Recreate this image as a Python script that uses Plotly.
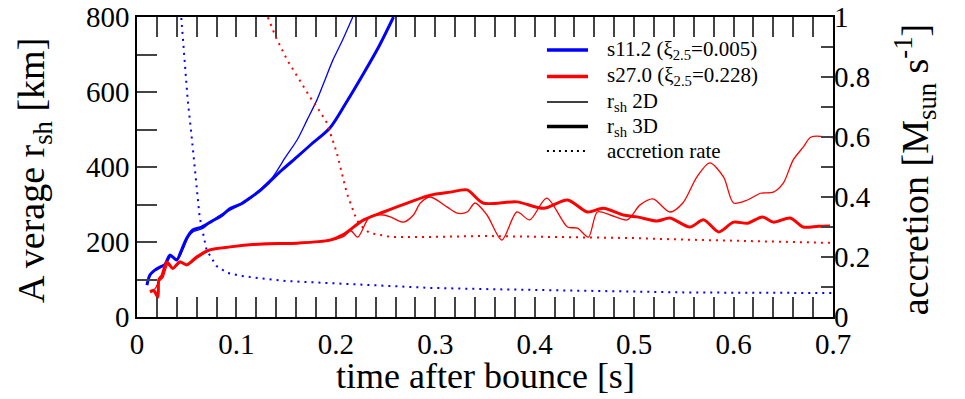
import plotly.graph_objects as go

# ---- data ----
# s11.2, shock radius 3D (thick)
t_b3 = [0.010,0.013,0.018,0.023,0.028,0.033,0.036,0.040,0.045,0.050,0.056,0.065,0.075,0.085,0.094,0.105,0.115,0.125,0.134,0.145,0.161,0.175,0.194,0.210,0.228,0.243,0.258]
r_b3 = [85,112,125,133,140,165,160,152,180,210,232,240,255,270,290,302,320,340,362,390,427,460,504,570,650,720,800]
# s11.2, shock radius 2D (thin)
t_b2 = [0.010,0.014,0.019,0.024,0.030,0.034,0.038,0.042,0.047,0.052,0.057,0.066,0.076,0.086,0.096,0.106,0.116,0.126,0.137,0.149,0.161,0.171,0.181,0.189,0.197,0.207,0.217]
r_b2 = [88,115,128,135,145,162,155,158,185,215,228,236,258,275,288,302,320,345,375,425,472,525,579,632,685,740,800]
# s27.0, shock radius 3D (thick)
t_r3 = [0.013,0.017,0.021,0.022,0.025,0.030,0.036,0.043,0.050,0.060,0.073,0.094,0.127,0.161,0.194,0.207,0.228,0.248,0.275,0.295,0.315,0.332,0.348,0.382,0.409,0.433,0.453,0.469,0.489,0.503,0.523,0.536,0.556,0.570,0.585,0.600,0.614,0.629,0.640,0.657,0.670,0.685,0.697]
r_r3 = [67,70,53,100,110,147,130,147,139,160,179,187,195,197,205,219,259,280,307,325,333,339,304,307,290,312,280,290,272,267,256,264,240,259,227,253,250,267,253,264,240,242,243]
# s27.0, shock radius 2D (thin)
t_r2 = [0.013,0.018,0.022,0.026,0.031,0.036,0.044,0.051,0.061,0.074,0.095,0.128,0.162,0.195,0.208,0.215,0.222,0.234,0.248,0.255,0.268,0.278,0.285,0.295,0.312,0.322,0.332,0.340,0.352,0.367,0.382,0.395,0.412,0.433,0.443,0.454,0.463,0.476,0.493,0.506,0.519,0.536,0.549,0.563,0.576,0.590,0.600,0.614,0.627,0.640,0.650,0.660,0.670,0.678,0.700]
r_r2 = [70,75,95,105,140,128,145,140,158,178,188,196,198,205,215,230,213,267,272,267,253,272,304,320,293,277,280,304,272,205,280,259,317,240,237,213,280,272,259,299,315,280,304,373,411,373,304,312,330,333,357,419,453,480,478]
# accretion rates [Msun/s]
t_ba = [0.044,0.047,0.051,0.055,0.058,0.063,0.070,0.080,0.091,0.105,0.121,0.150,0.194,0.250,0.295,0.350,0.400,0.450,0.500,0.550,0.600,0.650,0.700]
a_ba = [1.02,0.88,0.723,0.60,0.50,0.333,0.223,0.17,0.147,0.137,0.13,0.12,0.113,0.105,0.097,0.093,0.09,0.087,0.084,0.082,0.081,0.08,0.08]
t_ra = [0.129,0.140,0.151,0.163,0.174,0.183,0.191,0.201,0.211,0.221,0.228,0.234,0.245,0.255,0.275,0.295,0.35,0.40,0.45,0.5,0.55,0.6,0.65,0.7]
a_ra = [1.02,0.93,0.857,0.79,0.733,0.69,0.647,0.547,0.413,0.323,0.295,0.28,0.272,0.267,0.267,0.267,0.27,0.268,0.265,0.263,0.258,0.254,0.25,0.247]

legend_labels = ["s11.2 (ξ<sub>2.5</sub>=0.005)", "s27.0 (ξ<sub>2.5</sub>=0.228)",
                 "r<sub>sh</sub> 2D", "r<sub>sh</sub> 3D", "accretion rate"]

BLUE = "#0000ff"
RED = "#ff0000"
FONT = "Liberation Serif"

fig = go.Figure()
sp = dict(shape="spline", smoothing=0.8)
fig.add_trace(go.Scatter(x=t_ba, y=a_ba, yaxis="y2", mode="lines", showlegend=False,
                         line=dict(color=BLUE, width=2, dash="2px,5px")))
fig.add_trace(go.Scatter(x=t_ra, y=a_ra, yaxis="y2", mode="lines", showlegend=False,
                         line=dict(color=RED, width=2, dash="2px,5px")))
fig.add_trace(go.Scatter(x=t_b2, y=r_b2, mode="lines", showlegend=False,
                         line=dict(color=BLUE, width=1.3, **sp)))
fig.add_trace(go.Scatter(x=t_b3, y=r_b3, mode="lines", showlegend=False,
                         line=dict(color=BLUE, width=3, **sp)))
fig.add_trace(go.Scatter(x=t_r2, y=r_r2, mode="lines", showlegend=False,
                         line=dict(color=RED, width=1.3, **sp)))
fig.add_trace(go.Scatter(x=t_r3, y=r_r3, mode="lines", showlegend=False,
                         line=dict(color=RED, width=3, **sp)))

# hand-placed legend (paper coordinates)
leg_styles = [dict(color=BLUE, width=3.5), dict(color=RED, width=3.5),
              dict(color="black", width=1.5), dict(color="black", width=3.5),
              dict(color="black", width=2, dash="2px,4px")]
leg_rows = [0.890, 0.802, 0.717, 0.635, 0.553]
shapes = []
annotations = []
for lab, st, yy in zip(legend_labels, leg_styles, leg_rows):
    shapes.append(dict(type="line", xref="paper", yref="paper",
                       x0=0.589, x1=0.648, y0=yy, y1=yy, line=st))
    annotations.append(dict(text=lab, xref="paper", yref="paper", x=0.672, y=yy,
                            xanchor="left", yanchor="middle", showarrow=False,
                            font=dict(family=FONT, size=21, color="black")))

annotations += [
    dict(text="A verage r<sub>sh</sub> [km]", xref="paper", yref="paper",
         x=-0.148, y=0.49, textangle=-90, showarrow=False,
         font=dict(family=FONT, size=38), xanchor="center", yanchor="middle"),
    dict(text="accretion [M<sub>sun</sub> s<sup>-1</sup>]", xref="paper", yref="paper",
         x=1.118, y=0.49, textangle=-90, showarrow=False,
         font=dict(family=FONT, size=38), xanchor="center", yanchor="middle"),
    dict(text="time after bounce [s]", xref="paper", yref="paper",
         x=0.5, y=-0.195, showarrow=False,
         font=dict(family=FONT, size=36), xanchor="center", yanchor="middle"),
]

fig.update_layout(
    width=965, height=399,
    margin=dict(l=137, r=132, t=17, b=82),
    plot_bgcolor="white", paper_bgcolor="white",
    font=dict(family=FONT, color="black", size=29),
    showlegend=False,
    xaxis=dict(range=[0, 0.7], dtick=0.1, ticks="inside", ticklen=20, tickwidth=1.5,
               showline=True, linewidth=1.5, linecolor="black", mirror="allticks",
               showgrid=False, zeroline=False, automargin=False,
               minor=dict(dtick=0.02, ticks="inside", ticklen=10, tickwidth=1.5, showgrid=False),
               tickfont=dict(size=29)),
    yaxis=dict(range=[0, 800], dtick=200, ticks="inside", ticklen=20, tickwidth=1.5,
               showline=True, linewidth=1.5, linecolor="black", mirror=True,
               showgrid=False, zeroline=False, automargin=False,
               minor=dict(dtick=100, ticks="inside", ticklen=20, tickwidth=1.5, showgrid=False),
               tickfont=dict(size=29)),
    yaxis2=dict(range=[0, 1], dtick=0.2, overlaying="y", side="right", ticks="inside",
                ticklen=12, tickwidth=1.5, showline=False, showgrid=False, zeroline=False,
                automargin=False,
                minor=dict(dtick=0.1, ticks="inside", ticklen=12, tickwidth=1.5, showgrid=False),
                tickfont=dict(size=29)),
    shapes=shapes,
    annotations=annotations,
)

fig.write_html("out.html")
